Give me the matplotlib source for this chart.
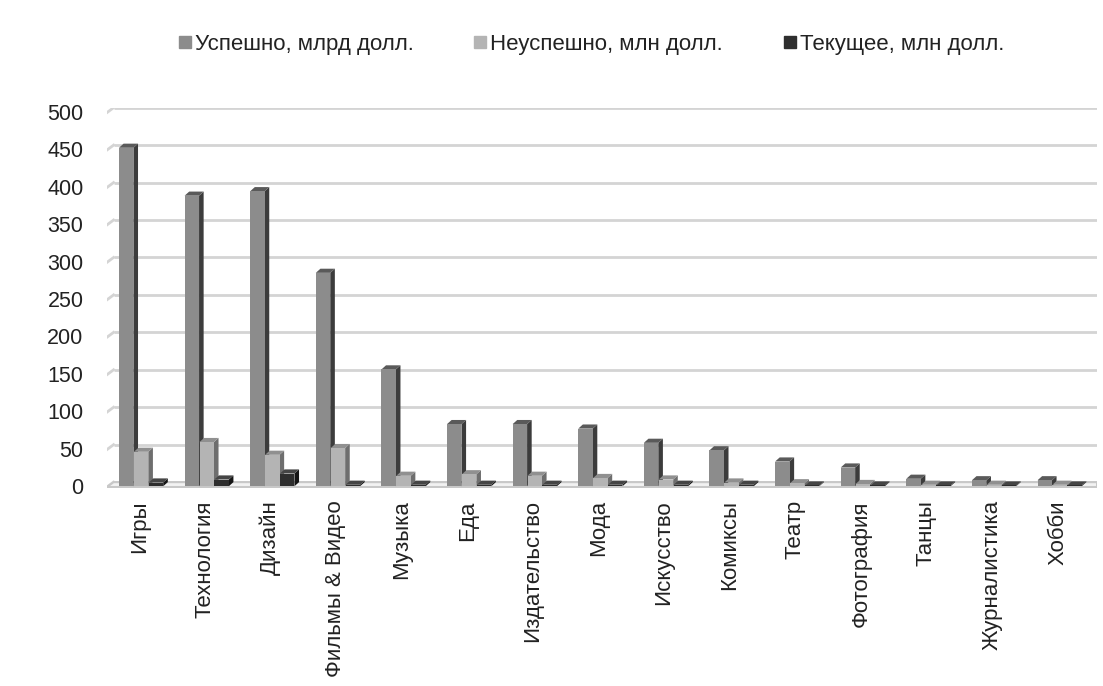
import matplotlib.pyplot as plt
from matplotlib.patches import Polygon
from matplotlib.lines import Line2D
import numpy as np

categories = ["Игры", "Технология", "Дизайн", "Фильмы & Видео", "Музыка", "Еда",
              "Издательство", "Мода", "Искусство", "Комиксы", "Театр",
              "Фотография", "Танцы", "Журналистика", "Хобби"]
success = [452, 388, 394, 285, 156, 83, 83, 77, 58, 48, 33, 25, 10, 8, 8]
failed = [46, 59, 42, 51, 14, 16, 14, 11, 9, 5, 4, 3, 2, 2, 2]
current = [5, 9, 17, 2, 2, 2, 2, 2, 2, 2, 1, 1, 1, 1, 1]
series_names = ["Успешно, млрд долл.", "Неуспешно, млн долл.", "Текущее, млн долл."]

plt.rcParams["font.family"] = ["Liberation Sans", "DejaVu Sans"]

# front, side, top shades for each series
shades = [("#8c8c8c", "#3c3c3c", "#5a5a5a"),
          ("#b4b4b4", "#6e6e6e", "#909090"),
          ("#2e2e2e", "#151515", "#454545")]

fig = plt.figure(figsize=(11.03, 6.86), dpi=100)
ax = fig.add_axes([0.097, 0.289, 0.8976, 0.554])

x = np.arange(len(categories))
width = 0.22
offsets = [-0.227, 0.0, 0.227]
dx, dy = 0.07, 5.5  # depth of the pseudo-3d faces
left = -0.52

for yv in range(0, 501, 50):
    ax.plot([left + 0.1, len(categories) - 0.5 + dx], [yv + dy, yv + dy],
            color="#d4d4d4", lw=2.0, zorder=0, solid_capstyle="butt")
    ax.plot([left, left + 0.1], [yv - 1, yv + dy], color="#d4d4d4", lw=2.0, zorder=0)

# floor
ax.add_patch(Polygon([(left, -1), (left + 0.1, dy), (len(categories) - 0.5 + dx, dy),
                      (len(categories) - 0.5 + dx, -1)],
                     closed=True, fc="#f2f2f2", ec="#c8c8c8", lw=1.5, zorder=1))

for si, vals in enumerate([success, failed, current]):
    front, side, top = shades[si]
    for xi, h in zip(x, vals):
        x0 = xi + offsets[si] - width / 2
        x1 = x0 + width
        ax.add_patch(Polygon([(x1, 0), (x1 + dx, dy), (x1 + dx, h + dy), (x1, h)],
                             closed=True, fc=side, ec="none", zorder=2 + si))
        ax.add_patch(Polygon([(x0, h), (x0 + dx, h + dy), (x1 + dx, h + dy), (x1, h)],
                             closed=True, fc=top, ec="none", zorder=2 + si))
        ax.bar(xi + offsets[si], h, width, color=front, edgecolor="none", zorder=2 + si)

ax.set_xlim(left, len(categories) - 0.5 + dx)
ax.set_ylim(-2, 500 + dy)
ax.set_yticks(range(0, 501, 50))
ax.set_xticks(x - 0.03)
ax.set_xticklabels(categories, rotation=90, fontsize=16, va="top")
ax.tick_params(axis="y", labelsize=15.5, length=0, pad=17, labelcolor="#222222")
ax.tick_params(axis="x", length=0, pad=9, labelcolor="#222222")
for s in ["top", "right", "left", "bottom"]:
    ax.spines[s].set_visible(False)

handles = [Line2D([], [], marker="s", ls="none", markersize=9,
                  markerfacecolor=shades[i][0], markeredgecolor=shades[i][0])
           for i in range(3)]
fig.legend(handles, series_names, loc="upper center", bbox_to_anchor=(0.535, 0.98),
           ncol=3, frameon=False, fontsize=16, handletextpad=0.05,
           columnspacing=2.6, handlelength=0.8, labelcolor="#222222")

fig.savefig("out.png", dpi=100)
